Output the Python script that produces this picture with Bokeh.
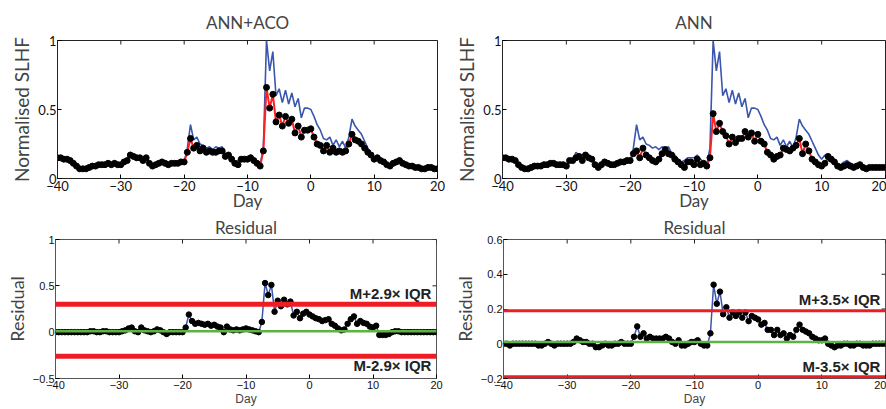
import numpy as np
from bokeh.plotting import figure
from bokeh.models import Range1d, FixedTicker, Span, Label, ColumnDataSource
from bokeh.layouts import row, column
from bokeh.embed import file_html
from bokeh.resources import INLINE

# sampling grid (days relative to event), 0.5-day steps
days = np.arange(-40, 20.5, 0.5)

# observed normalised SLHF (blue)
obs = [0.15,0.15,0.14,0.14,0.13,0.11,0.09,0.07,0.07,0.07,
       0.08,0.09,0.09,0.10,0.10,0.10,0.11,0.10,0.11,0.10,
       0.10,0.12,0.13,0.19,0.17,0.15,0.16,0.14,0.15,0.11,
       0.09,0.10,0.12,0.12,0.11,0.10,0.11,0.11,0.11,0.12,
       0.12,0.22,0.39,0.28,0.30,0.25,0.24,0.22,0.23,0.21,
       0.23,0.22,0.23,0.18,0.17,0.14,0.12,0.13,0.15,0.15,
       0.15,0.17,0.14,0.12,0.10,0.22,1.00,0.78,0.92,0.60,
       0.65,0.55,0.64,0.54,0.62,0.52,0.58,0.44,0.51,0.51,
       0.50,0.45,0.39,0.35,0.29,0.28,0.30,0.24,0.28,0.23,
       0.27,0.22,0.30,0.43,0.38,0.35,0.32,0.27,0.22,0.17,
       0.14,0.17,0.13,0.12,0.10,0.08,0.10,0.12,0.13,0.11,
       0.10,0.09,0.09,0.08,0.08,0.07,0.07,0.08,0.08,0.07,
       0.07]

# ANN+ACO prediction (red line / black dots)
pred_aco = [0.15,0.15,0.14,0.14,0.13,0.11,0.09,0.07,0.07,0.07,
            0.08,0.09,0.09,0.10,0.10,0.10,0.11,0.10,0.11,0.10,
            0.10,0.12,0.13,0.17,0.16,0.15,0.15,0.13,0.15,0.11,
            0.09,0.10,0.11,0.12,0.11,0.10,0.11,0.11,0.11,0.12,
            0.12,0.19,0.29,0.22,0.24,0.20,0.22,0.19,0.20,0.19,
            0.19,0.20,0.20,0.16,0.17,0.14,0.11,0.10,0.14,0.14,
            0.14,0.15,0.13,0.11,0.09,0.20,0.66,0.51,0.61,0.41,
            0.46,0.38,0.45,0.40,0.43,0.33,0.38,0.30,0.35,0.35,
            0.36,0.30,0.25,0.24,0.20,0.24,0.19,0.22,0.19,0.20,
            0.19,0.20,0.25,0.32,0.28,0.27,0.25,0.22,0.19,0.17,
            0.14,0.15,0.13,0.12,0.10,0.09,0.11,0.12,0.13,0.11,
            0.10,0.09,0.09,0.08,0.08,0.07,0.07,0.08,0.08,0.07,
            0.07]

# ANN prediction (red line / black dots)
pred_ann = [0.15,0.15,0.14,0.14,0.13,0.10,0.08,0.07,0.07,0.08,
            0.09,0.09,0.09,0.10,0.10,0.11,0.11,0.10,0.10,0.10,
            0.09,0.13,0.13,0.15,0.16,0.13,0.17,0.15,0.14,0.10,
            0.08,0.10,0.12,0.11,0.10,0.10,0.11,0.12,0.12,0.13,
            0.13,0.18,0.20,0.15,0.22,0.17,0.15,0.13,0.12,0.14,
            0.18,0.21,0.18,0.17,0.14,0.12,0.10,0.08,0.12,0.12,
            0.10,0.14,0.10,0.11,0.09,0.15,0.47,0.34,0.40,0.34,
            0.31,0.25,0.30,0.26,0.29,0.29,0.34,0.30,0.33,0.27,
            0.32,0.27,0.25,0.19,0.17,0.14,0.16,0.17,0.22,0.21,
            0.20,0.22,0.24,0.29,0.18,0.25,0.20,0.14,0.12,0.10,
            0.09,0.11,0.16,0.14,0.12,0.09,0.08,0.09,0.10,0.09,
            0.08,0.09,0.10,0.08,0.07,0.08,0.08,0.08,0.08,0.08,
            0.08]

# residuals
res_aco = [0.00,0.00,0.00,0.00,0.00,0.00,0.00,0.00,0.00,0.00,
           0.00,0.01,0.01,0.00,0.00,0.01,0.01,0.00,0.00,0.00,
           0.00,0.01,0.02,0.04,0.05,0.01,0.00,0.05,0.02,0.01,
           0.00,0.01,0.03,0.02,0.00,-0.02,0.00,0.00,0.00,0.00,
           0.00,0.05,0.19,0.12,0.09,0.10,0.09,0.08,0.09,0.07,
           0.08,0.06,0.05,0.00,0.06,0.03,0.02,0.03,0.02,0.03,
           0.04,0.03,0.02,0.01,0.00,0.11,0.53,0.40,0.51,0.22,
           0.34,0.28,0.35,0.30,0.33,0.18,0.22,0.15,0.20,0.22,
           0.19,0.17,0.15,0.14,0.12,0.13,0.14,0.09,0.07,0.04,
           0.02,0.03,0.09,0.14,0.17,0.09,0.12,0.10,0.09,0.06,
           0.05,0.07,-0.03,-0.03,-0.03,-0.02,0.00,0.01,0.01,0.00,
           0.00,0.00,0.00,0.00,0.00,0.00,0.00,0.00,0.00,0.00,
           0.00]

res_ann = [0.00,0.00,-0.01,0.00,0.00,0.00,0.00,0.00,0.00,0.00,
           0.00,-0.01,-0.01,0.00,0.01,0.00,-0.01,0.00,0.00,0.00,
           0.00,0.00,0.01,0.03,0.02,0.01,0.01,0.00,0.00,-0.02,
           -0.02,-0.01,0.00,-0.01,-0.01,0.00,0.00,0.01,0.00,0.00,
           0.00,0.04,0.10,0.04,0.06,0.03,0.04,0.03,0.03,0.03,
           0.03,0.04,0.03,0.01,0.00,0.02,-0.01,-0.01,0.00,0.01,
           0.01,0.02,0.00,-0.01,-0.01,0.06,0.34,0.23,0.30,0.17,
           0.21,0.15,0.18,0.16,0.18,0.15,0.18,0.13,0.16,0.15,
           0.14,0.11,0.12,0.08,0.08,0.05,0.08,0.05,0.06,0.03,
           0.05,0.04,0.08,0.11,0.08,0.07,0.06,0.04,0.03,0.02,
           0.02,0.03,0.00,-0.01,-0.02,-0.01,-0.01,0.00,0.00,-0.01,
           -0.01,0.00,0.00,-0.01,-0.01,-0.01,0.00,0.00,0.00,0.00,
           0.00]

x_ticks = [-40, -30, -20, -10, 0, 10, 20]
top_yticks = [0, 0.5, 1]
aco_res_yticks = [-0.5, 0, 0.5, 1]
ann_res_yticks = [-0.2, 0, 0.2, 0.4, 0.6]
aco_limits = [0.30, -0.26]
ann_limits = [0.19, -0.19]
aco_labels = ["M+2.9\u00d7 IQR", "M-2.9\u00d7 IQR"]
ann_labels = ["M+3.5\u00d7 IQR", "M-3.5\u00d7 IQR"]
median_line = 0.01

BLUE = "#3a56ad"
RED = "#ff2020"
GREEN = "#5db443"


def base_fig(title, fw, fh, ylo, yhi, yticks, ylabel, mb, title_standoff, tick_font, tick_size,
             xlab_font, xlab_size, xlab_standoff, ylab_size, frame_color):
    p = figure(frame_width=fw, frame_height=fh, output_backend="svg", toolbar_location=None,
               x_range=Range1d(-40, 20), y_range=Range1d(ylo, yhi),
               min_border_left=mb[0], min_border_right=mb[1],
               min_border_top=mb[2], min_border_bottom=mb[3])
    p.title.text = title
    p.title.align = "center"
    p.title.text_font = "Lato"
    p.title.text_font_size = "17px"
    p.title.text_font_style = "normal"
    p.title.standoff = title_standoff
    p.grid.visible = False
    p.outline_line_color = frame_color
    p.background_fill_color = "white"
    p.border_fill_color = "white"
    p.xaxis.ticker = FixedTicker(ticks=x_ticks)
    p.yaxis.ticker = FixedTicker(ticks=yticks)
    for ax in (p.xaxis[0], p.yaxis[0]):
        ax.major_tick_in = 4
        ax.major_tick_out = 0
        ax.minor_tick_line_color = None
        ax.major_label_text_font = tick_font
        ax.major_label_text_font_size = tick_size
        ax.major_label_text_color = "#111111"
        ax.axis_line_color = frame_color
        ax.major_label_standoff = 2
    p.yaxis.major_label_standoff = 1
    p.xaxis.axis_label = "Day"
    p.xaxis.axis_label_text_font = xlab_font
    p.xaxis.axis_label_text_font_size = xlab_size
    p.xaxis.axis_label_text_font_style = "normal"
    p.xaxis.axis_label_standoff = xlab_standoff
    p.yaxis.axis_label = ylabel
    p.yaxis.axis_label_text_font = "Lato"
    p.yaxis.axis_label_text_font_size = ylab_size
    p.yaxis.axis_label_text_font_style = "normal"
    p.yaxis.axis_label_standoff = 2
    # mirrored tick marks on the top and right edges (half of each dash is clipped away)
    p.scatter(x=x_ticks, y=[yhi] * len(x_ticks), marker="dash", angle=np.pi / 2,
              size=8, line_color="#222222", line_width=1)
    p.scatter(x=[20] * len(yticks), y=yticks, marker="dash", angle=0,
              size=8, line_color="#222222", line_width=1)
    return p


def top_panel(title, pred, fw, mb):
    p = base_fig(title, fw, 138, 0, 1, top_yticks, "Normalised SLHF", mb, 15,
                 "Lato", "13px", "Lato", "17px", -4, "19px", "#222222")
    src = ColumnDataSource(dict(day=days, obs=obs, pred=pred))
    p.line("day", "obs", source=src, line_color=BLUE, line_width=1.6)
    p.line("day", "pred", source=src, line_color=RED, line_width=2)
    p.scatter("day", "pred", source=src, size=6, fill_color="black", line_color="black")
    return p


def res_panel(res, ylo, yhi, yticks, limits, labels, lim_width, upper_y, lower_y, fw, mb):
    p = base_fig("Residual", fw, 139, ylo, yhi, yticks, "Residual", mb, 3,
                 "Liberation Sans", "11px", "Liberation Sans", "12px", 0, "18px", "#555555")
    src = ColumnDataSource(dict(day=days, res=res))
    p.add_layout(Span(location=limits[0], dimension="width", line_color="#ee1c24", line_width=lim_width))
    p.add_layout(Span(location=limits[1], dimension="width", line_color="#ee1c24", line_width=lim_width))
    p.add_layout(Span(location=median_line, dimension="width", line_color=GREEN, line_width=2.5))
    p.line("day", "res", source=src, line_color=BLUE, line_width=1.5)
    p.scatter("day", "res", source=src, size=5.5, fill_color="black", line_color="black")
    for txt, yy in zip(labels, (upper_y, lower_y)):
        p.add_layout(Label(x=19.2, y=yy, text=txt, text_align="right", text_baseline="middle",
                           text_font="Liberation Sans", text_font_size="15px",
                           text_font_style="bold", text_color="#222222"))
    return p


p1 = top_panel("ANN+ACO", pred_aco, 380, (57, 8, 39, 31))
p2 = top_panel("ANN", pred_ann, 383, (57, 1, 40, 30))
p3 = res_panel(res_aco, -0.5, 1, aco_res_yticks, aco_limits, aco_labels, 5, 0.42, -0.36,
               381, (55, 12, 25, 31))
p4 = res_panel(res_ann, -0.2, 0.6, ann_res_yticks, ann_limits, ann_labels, 3, 0.255, -0.13,
               382, (55, 1, 23, 33))

layout = column(row(p1, p2), row(p3, p4))
open("out.html", "w").write(file_html(layout, INLINE))
